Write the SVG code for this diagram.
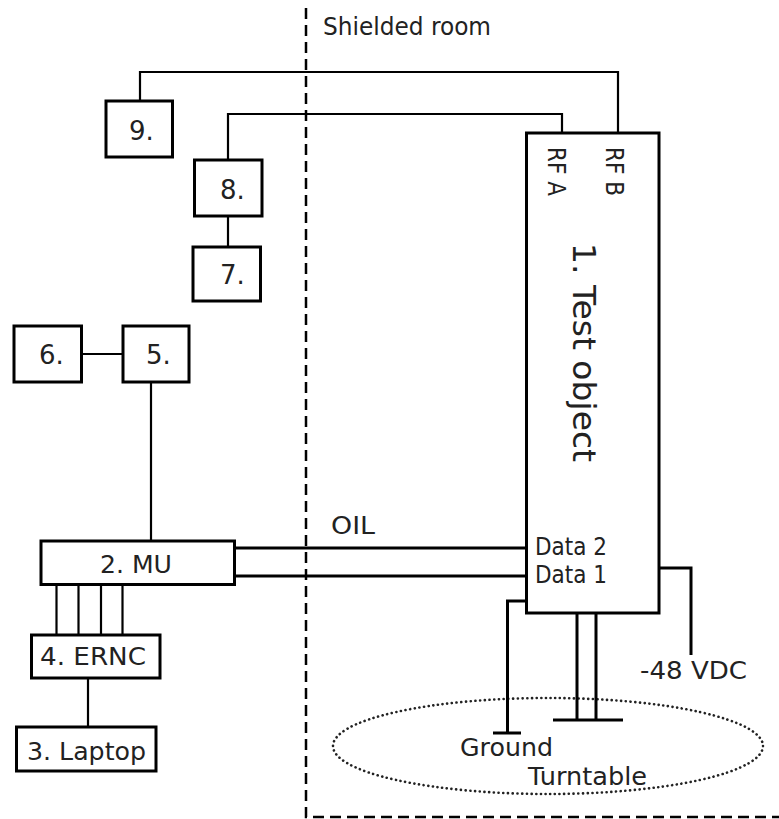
<svg xmlns="http://www.w3.org/2000/svg" width="779" height="819" viewBox="0 0 779 819">
<style>
.box{fill:#fff;stroke:#000;stroke-width:3}
.ln{fill:none;stroke:#000;stroke-width:2.2}
.thick{fill:none;stroke:#000;stroke-width:3}
.t{font-family:"DejaVu Sans",Verdana,sans-serif;font-size:24px;fill:#222}
.n{font-size:26px}
.dash{fill:none;stroke:#000;stroke-width:2.5;stroke-dasharray:11 6}
.dot{fill:none;stroke:#222;stroke-width:2.6;stroke-dasharray:0.1 4.6;stroke-linecap:round}
</style>
<rect width="779" height="819" fill="#fff"/>
<g id="room">
<path class="dash" d="M306 8 V817 H779"/>
<text class="t" x="323" y="35" textLength="168" lengthAdjust="spacingAndGlyphs">Shielded room</text>
</g>
<g id="turntable">
<ellipse class="dot" cx="548" cy="746" rx="215" ry="48"/>
<text class="t" x="528" y="785" textLength="119" lengthAdjust="spacingAndGlyphs">Turntable</text>
</g>
<g id="connectors">
<path class="ln" d="M140 101 V72 H618 V133"/>
<path class="ln" d="M228 160 V114 H562 V133"/>
<path class="ln" d="M228 216 V247"/>
<path class="ln" d="M81.5 354 H123"/>
<path class="ln" d="M151 382 V541"/>
<path class="thick" d="M234.5 548 H526.5"/>
<path class="thick" d="M234.5 576 H526.5"/>
<path class="ln" d="M56.5 585 V635 M78.5 585 V635 M101 585 V635 M122.5 585 V635"/>
<path class="ln" d="M88 678 V727"/>
<path class="thick" d="M659 568 H691 V655"/>
<path class="thick" d="M526.5 601 H507.5 V733 M493 733 H521"/>
<path class="thick" d="M577 613 V720 M596 613 V720 M553 720 H623"/>
<text class="t" x="331" y="534" textLength="44" lengthAdjust="spacingAndGlyphs">OIL</text>
<text class="t" x="640" y="679" textLength="107" lengthAdjust="spacingAndGlyphs">-48 VDC</text>
<text class="t" x="460" y="756" textLength="93" lengthAdjust="spacingAndGlyphs">Ground</text>
</g>
<g id="n1">
<rect class="box" x="526.5" y="133" width="132.5" height="480"/>
<text class="t" transform="translate(548 147) rotate(90)" textLength="49" lengthAdjust="spacingAndGlyphs">RF A</text>
<text class="t" transform="translate(606 147) rotate(90)" textLength="49" lengthAdjust="spacingAndGlyphs">RF B</text>
<text class="t" style="font-size:32px" transform="translate(573 243) rotate(90)" textLength="219" lengthAdjust="spacingAndGlyphs">1. Test object</text>
<text class="t" x="535" y="555" textLength="72" lengthAdjust="spacingAndGlyphs">Data 2</text>
<text class="t" x="535" y="583" textLength="72" lengthAdjust="spacingAndGlyphs">Data 1</text>
</g>
<g id="n2">
<rect class="box" x="41" y="541" width="193.5" height="43.5"/>
<text class="t" x="100" y="573" textLength="72" lengthAdjust="spacingAndGlyphs">2. MU</text>
</g>
<g id="n3">
<rect class="box" x="16.5" y="727" width="139.5" height="44"/>
<text class="t" x="27" y="760" textLength="119" lengthAdjust="spacingAndGlyphs">3. Laptop</text>
</g>
<g id="n4">
<rect class="box" x="31.5" y="635" width="128.5" height="43"/>
<text class="t" x="40" y="665" textLength="106" lengthAdjust="spacingAndGlyphs">4. ERNC</text>
</g>
<g id="n5">
<rect class="box" x="123" y="326" width="66" height="56"/>
<text class="t n" x="146" y="364">5.</text>
</g>
<g id="n6">
<rect class="box" x="14" y="326" width="67.5" height="56"/>
<text class="t n" x="39" y="364">6.</text>
</g>
<g id="n7">
<rect class="box" x="193" y="247" width="67.5" height="54"/>
<text class="t n" x="220" y="284">7.</text>
</g>
<g id="n8">
<rect class="box" x="194.5" y="160" width="67.5" height="56"/>
<text class="t n" x="220" y="199">8.</text>
</g>
<g id="n9">
<rect class="box" x="106" y="101" width="66.5" height="56"/>
<text class="t n" x="129" y="140">9.</text>
</g>
</svg>
